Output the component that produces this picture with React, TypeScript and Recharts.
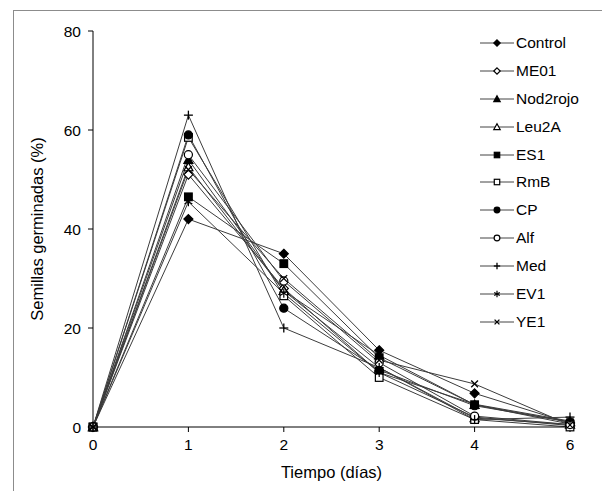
import React from "react";
import { LineChart, Line, XAxis, YAxis, Legend } from "recharts";

// days on the x axis (categorical, 5 is missing in the source)
const days = ["0", "1", "2", "3", "4", "6"];

// % germinated seeds per strain
const control = [0, 42, 35, 15.5, 6.8, 0.8];
const me01 = [0, 51, 28, 11, 2, 0.3];
const nod2rojo = [0, 54, 27.5, 14.5, 4.5, 1];
const leu2a = [0, 52.5, 27.5, 12, 1.8, 0.5];
const es1 = [0, 46.5, 33, 14, 4.5, 0.6];
const rmb = [0, 58.5, 26.5, 10, 1.5, 0];
const cp = [0, 59, 24, 11.5, 4.3, 1];
const alf = [0, 55, 29.5, 13, 2.2, 0.5];
const med = [0, 63, 20, 12, 1.5, 2];
const ev1 = [0, 45.5, 27, 11, 4.6, 1.2];
const ye1 = [0, 52, 30, 13.5, 8.7, 0.4];

const yTicks = [0, 20, 40, 60, 80];

type Shape = "diamond" | "triangle" | "square" | "circle" | "plus" | "star" | "cross";

const series: { key: string; name: string; values: number[]; shape: Shape; filled: boolean }[] = [
  { key: "control", name: "Control", values: control, shape: "diamond", filled: true },
  { key: "me01", name: "ME01", values: me01, shape: "diamond", filled: false },
  { key: "nod2rojo", name: "Nod2rojo", values: nod2rojo, shape: "triangle", filled: true },
  { key: "leu2a", name: "Leu2A", values: leu2a, shape: "triangle", filled: false },
  { key: "es1", name: "ES1", values: es1, shape: "square", filled: true },
  { key: "rmb", name: "RmB", values: rmb, shape: "square", filled: false },
  { key: "cp", name: "CP", values: cp, shape: "circle", filled: true },
  { key: "alf", name: "Alf", values: alf, shape: "circle", filled: false },
  { key: "med", name: "Med", values: med, shape: "plus", filled: true },
  { key: "ev1", name: "EV1", values: ev1, shape: "star", filled: true },
  { key: "ye1", name: "YE1", values: ye1, shape: "cross", filled: true },
];

const data = days.map((d, i) => {
  const row: Record<string, string | number> = { day: d };
  series.forEach((s) => {
    row[s.key] = s.values[i];
  });
  return row;
});

const FONT = "Arial, 'Liberation Sans', sans-serif";

// plot box
const TOP = 31;
const PLOT_H = 396;

function Marker({ cx, cy, shape, filled, s }: { cx: number; cy: number; shape: Shape; filled: boolean; s: number }) {
  const fill = filled ? "#000" : "#fff";
  const sw = 1.2;
  switch (shape) {
    case "diamond":
      return (
        <polygon
          points={`${cx},${cy - s} ${cx + s},${cy} ${cx},${cy + s} ${cx - s},${cy}`}
          fill={fill}
          stroke="#000"
          strokeWidth={sw}
        />
      );
    case "triangle":
      return (
        <polygon
          points={`${cx},${cy - s} ${cx + s},${cy + s * 0.8} ${cx - s},${cy + s * 0.8}`}
          fill={fill}
          stroke="#000"
          strokeWidth={sw}
        />
      );
    case "square":
      return <rect x={cx - s * 0.85} y={cy - s * 0.85} width={s * 1.7} height={s * 1.7} fill={fill} stroke="#000" strokeWidth={sw} />;
    case "circle":
      return <circle cx={cx} cy={cy} r={s * 0.9} fill={fill} stroke="#000" strokeWidth={sw} />;
    case "plus":
      return (
        <g stroke="#000" strokeWidth={1.3}>
          <line x1={cx - s} y1={cy} x2={cx + s} y2={cy} />
          <line x1={cx} y1={cy - s} x2={cx} y2={cy + s} />
        </g>
      );
    case "star": {
      const a = s * 0.87;
      const b = s * 0.5;
      return (
        <g stroke="#000" strokeWidth={1.2}>
          <line x1={cx} y1={cy - s} x2={cx} y2={cy + s} />
          <line x1={cx - a} y1={cy - b} x2={cx + a} y2={cy + b} />
          <line x1={cx - a} y1={cy + b} x2={cx + a} y2={cy - b} />
        </g>
      );
    }
    case "cross":
    default: {
      const c = s * 0.75;
      return (
        <g stroke="#000" strokeWidth={1.3}>
          <line x1={cx - c} y1={cy - c} x2={cx + c} y2={cy + c} />
          <line x1={cx - c} y1={cy + c} x2={cx + c} y2={cy - c} />
        </g>
      );
    }
  }
}

const LegendContent = () => (
  <div style={{ fontFamily: FONT, fontSize: 15.5, color: "#000" }}>
    {series.map((s) => (
      <div key={s.key} style={{ display: "flex", alignItems: "center", height: 27.9 }}>
        <svg width={34} height={12} style={{ marginRight: 2 }}>
          <line x1={0} y1={6} x2={34} y2={6} stroke="#444" strokeWidth={1} />
          <Marker cx={17} cy={6} shape={s.shape} filled={s.filled} s={3.2} />
        </svg>
        <span>{s.name}</span>
      </div>
    ))}
  </div>
);

const YLabel = () => (
  <text
    transform={`translate(37, ${TOP + PLOT_H / 2}) rotate(-90)`}
    textAnchor="middle"
    dominantBaseline="central"
    style={{ fontSize: 16.5, fill: "#000", fontFamily: FONT }}
  >
    Semillas germinadas (%)
  </text>
);

export default function App() {
  return (
    <div
      style={{
        position: "absolute",
        left: 0,
        top: 0,
        width: 602,
        height: 491,
        overflow: "hidden",
        background: "#fff",
      }}
    >
      {/* outer frame, right and bottom edges fall outside the picture */}
      <div
        style={{
          position: "absolute",
          left: 13,
          top: 10,
          width: 620,
          height: 520,
          border: "1px solid #8c8c8c",
        }}
      />
      <div style={{ position: "absolute", left: 0, top: 0 }}>
        <LineChart width={602} height={491} data={data} margin={{ top: TOP, right: 32, bottom: 16, left: 0 }}>
          <XAxis
            dataKey="day"
            axisLine={{ stroke: "#000" }}
            tickLine={{ stroke: "#000" }}
            tickSize={5}
            tickMargin={7}
            height={48}
            tick={{ fontSize: 15.5, fill: "#000", fontFamily: FONT }}
            label={{
              value: "Tiempo (días)",
              position: "insideBottom",
              offset: -3,
              style: { fontSize: 16.5, fill: "#000", fontFamily: FONT },
            }}
          />
          <YAxis
            domain={[0, 80]}
            ticks={yTicks}
            width={93}
            axisLine={{ stroke: "#000" }}
            tickLine={{ stroke: "#000" }}
            tickSize={5}
            tickMargin={7}
            tick={{ fontSize: 15.5, fill: "#000", fontFamily: FONT }}
            label={{ content: <YLabel /> }}
          />
          <Legend
            layout="vertical"
            align="center"
            verticalAlign="middle"
            wrapperStyle={{ left: 480, top: 29, width: 120 }}
            content={<LegendContent />}
          />
          {series.map((s) => (
            <Line
              key={s.key}
              dataKey={s.key}
              name={s.name}
              stroke="#3c3c3c"
              strokeWidth={1}
              isAnimationActive={false}
              dot={(p: any) => (
                <Marker key={`${s.key}-${p.index}`} cx={p.cx} cy={p.cy} shape={s.shape} filled={s.filled} s={4.5} />
              )}
              activeDot={false}
            />
          ))}
        </LineChart>
      </div>
    </div>
  );
}
